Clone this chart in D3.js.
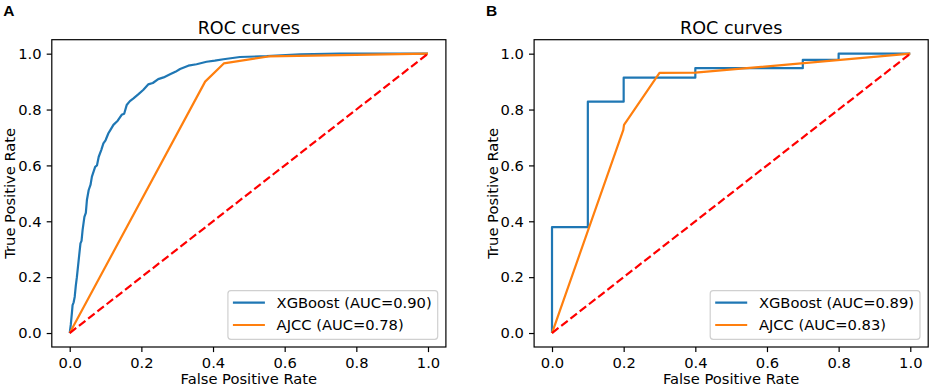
<!DOCTYPE html>
<html lang='en'>
<head>
<meta charset='UTF-8'>
<script src='https://d3js.org/d3.v7.min.js'></script>
<title>ROC curves</title>
<style>
  body { margin: 0; background: #fff; }
  svg text { font-family: 'DejaVu Sans', sans-serif; fill: #000; }
</style>
</head>
<body>
<svg id='chart' width='931' height='387'></svg>
<script>
// tick values shared by both axes
const tickVals = [0, 0.2, 0.4, 0.6, 0.8, 1.0]

// panel A, XGBoost
const xgbA_fpr = [0, 0.003, 0.006, 0.008, 0.011, 0.014, 0.017, 0.020, 0.025, 0.030, 0.033, 0.036, 0.041, 0.045, 0.048, 0.053,
  0.058, 0.062, 0.071, 0.076, 0.081, 0.088, 0.094, 0.100, 0.108, 0.115, 0.122, 0.134, 0.145, 0.152, 0.159, 0.168, 0.178,
  0.192, 0.205, 0.219, 0.232, 0.247, 0.262, 0.28, 0.295, 0.308, 0.331, 0.354, 0.382, 0.405, 0.429, 0.475, 0.55, 0.643, 0.754, 1.0]
const xgbA_tpr = [0, 0.03, 0.07, 0.10, 0.11, 0.13, 0.17, 0.20, 0.261, 0.321, 0.33, 0.369, 0.416, 0.43, 0.476, 0.512,
  0.53, 0.56, 0.595, 0.60, 0.631, 0.655, 0.679, 0.69, 0.715, 0.73, 0.745, 0.76, 0.781, 0.785, 0.816, 0.83, 0.84,
  0.855, 0.87, 0.89, 0.895, 0.909, 0.915, 0.926, 0.935, 0.945, 0.957, 0.962, 0.971, 0.975, 0.98, 0.988, 0.991, 0.998, 1.0, 1.0]
const ajccA_fpr = [0, 0.378, 0.43, 0.555, 1.0]
const ajccA_tpr = [0, 0.90, 0.965, 0.99, 1.0]

// panel B
const xgbB_fpr = [0, 0, 0.1, 0.1, 0.2, 0.2, 0.4, 0.4, 0.7, 0.7, 0.8, 0.8, 1.0]
const xgbB_tpr = [0, 0.379, 0.379, 0.828, 0.828, 0.914, 0.914, 0.948, 0.948, 0.978, 0.978, 1.0, 1.0]
const ajccB_fpr = [0, 0.199, 0.201, 0.3, 0.4, 1.0]
const ajccB_tpr = [0, 0.727, 0.745, 0.931, 0.932, 1.0]

const panelNames = ['A', 'B']
const xgbLabels = ['XGBoost (AUC=0.90)', 'XGBoost (AUC=0.89)']
const ajccLabels = ['AJCC (AUC=0.78)', 'AJCC (AUC=0.83)']

const blue = '#1f77b4', orange = '#ff7f0e'
const fs = 14.7 // 10pt

const svg = d3.select('#chart')

function zip(xs, ys) { return xs.map((x, i) => [x, ys[i]]) }

const panels = [
  { name: panelNames[0], left: 51.8, right: 445.9, labelX: 3.3, ylabX: 15,
    xgb: zip(xgbA_fpr, xgbA_tpr), ajcc: zip(ajccA_fpr, ajccA_tpr), l1: xgbLabels[0], l2: ajccLabels[0] },
  { name: panelNames[1], left: 534.1, right: 928.2, labelX: 486, ylabX: 498,
    xgb: zip(xgbB_fpr, xgbB_tpr), ajcc: zip(ajccB_fpr, ajccB_tpr), l1: xgbLabels[1], l2: ajccLabels[1] }
]
const axTop = 39.7, axBottom = 347

panels.forEach((p, idx) => {
  const x = d3.scaleLinear().domain([-0.05, 1.05]).range([p.left, p.right])
  const y = d3.scaleLinear().domain([-0.05, 1.05]).range([axBottom, axTop])
  const g = svg.append('g')

  // panel letter
  g.append('text').attr('x', p.labelX).attr('y', 15.5)
    .style('font-family', "'Liberation Sans', Arial, sans-serif")
    .style('font-weight', 'bold').style('font-size', '15.5px').text(p.name)

  // title
  g.append('text').attr('x', (p.left + p.right) / 2).attr('y', 34)
    .attr('text-anchor', 'middle').style('font-size', '17.6px').text('ROC curves')

  const clipId = 'clip' + idx
  g.append('clipPath').attr('id', clipId).append('rect')
    .attr('x', p.left).attr('y', axTop).attr('width', p.right - p.left).attr('height', axBottom - axTop)

  const line = d3.line().x(d => x(d[0])).y(d => y(d[1]))
  const plot = g.append('g').attr('clip-path', `url(#${clipId})`)
  plot.append('path').datum(p.xgb).attr('d', line)
    .attr('fill', 'none').attr('stroke', blue).attr('stroke-width', 2.2).attr('stroke-linejoin', 'round')
  plot.append('path').datum(p.ajcc).attr('d', line)
    .attr('fill', 'none').attr('stroke', orange).attr('stroke-width', 2.2).attr('stroke-linejoin', 'round')
  plot.append('path').datum([[0, 0], [1, 1]]).attr('d', line)
    .attr('fill', 'none').attr('stroke', 'red').attr('stroke-width', 2.2).attr('stroke-dasharray', '8.2,3.5')

  // axes
  const xAxis = g.append('g').attr('transform', `translate(0,${axBottom})`)
    .call(d3.axisBottom(x).tickValues(tickVals).tickFormat(d3.format('.1f')).tickSize(5.1).tickPadding(5.1))
  const yAxis = g.append('g').attr('transform', `translate(${p.left},0)`)
    .call(d3.axisLeft(y).tickValues(tickVals).tickFormat(d3.format('.1f')).tickSize(5.1).tickPadding(5.1))
  ;[xAxis, yAxis].forEach(a => {
    a.attr('font-family', null).attr('font-size', null)
    a.select('.domain').remove()
    a.selectAll('line').attr('stroke', '#000').attr('stroke-width', 1.2)
    a.selectAll('text').style('font-size', fs + 'px')
  })

  // frame
  g.append('rect').attr('x', p.left).attr('y', axTop)
    .attr('width', p.right - p.left).attr('height', axBottom - axTop)
    .attr('fill', 'none').attr('stroke', '#000').attr('stroke-width', 1.2)

  // axis labels
  g.append('text').attr('x', (p.left + p.right) / 2).attr('y', 383.5)
    .attr('text-anchor', 'middle').style('font-size', fs + 'px').text('False Positive Rate')
  g.append('text').attr('transform', `translate(${p.ylabX},${(axTop + axBottom) / 2}) rotate(-90)`)
    .attr('text-anchor', 'middle').style('font-size', fs + 'px').text('True Positive Rate')

  // legend, lower right
  const leg = g.append('g')
  const box = leg.append('rect').attr('rx', 3).attr('ry', 3)
    .attr('fill', 'rgba(255,255,255,0.8)').attr('stroke', '#d0d0d0').attr('stroke-width', 1.2)
  const rows = [[p.l1, blue], [p.l2, orange]]
  const texts = rows.map((r, i) => leg.append('text').style('font-size', fs + 'px').text(r[0]))
  const tw = d3.max(texts, t => t.node().getComputedTextLength())
  const boxW = 5 + 32 + 11.7 + tw + 6
  const bx = p.right - 8.2 - boxW, bBottom = axBottom - 7.7, bTop = bBottom - 48.6
  box.attr('x', bx).attr('y', bTop).attr('width', boxW).attr('height', bBottom - bTop)
  rows.forEach((r, i) => {
    const cy = bTop + 12 + i * 22.3
    leg.append('line').attr('x1', bx + 5).attr('x2', bx + 37).attr('y1', cy).attr('y2', cy)
      .attr('stroke', r[1]).attr('stroke-width', 2.2)
    texts[i].attr('x', bx + 48.7).attr('y', cy + 5.3)
  })
})
</script>
</body>
</html>
